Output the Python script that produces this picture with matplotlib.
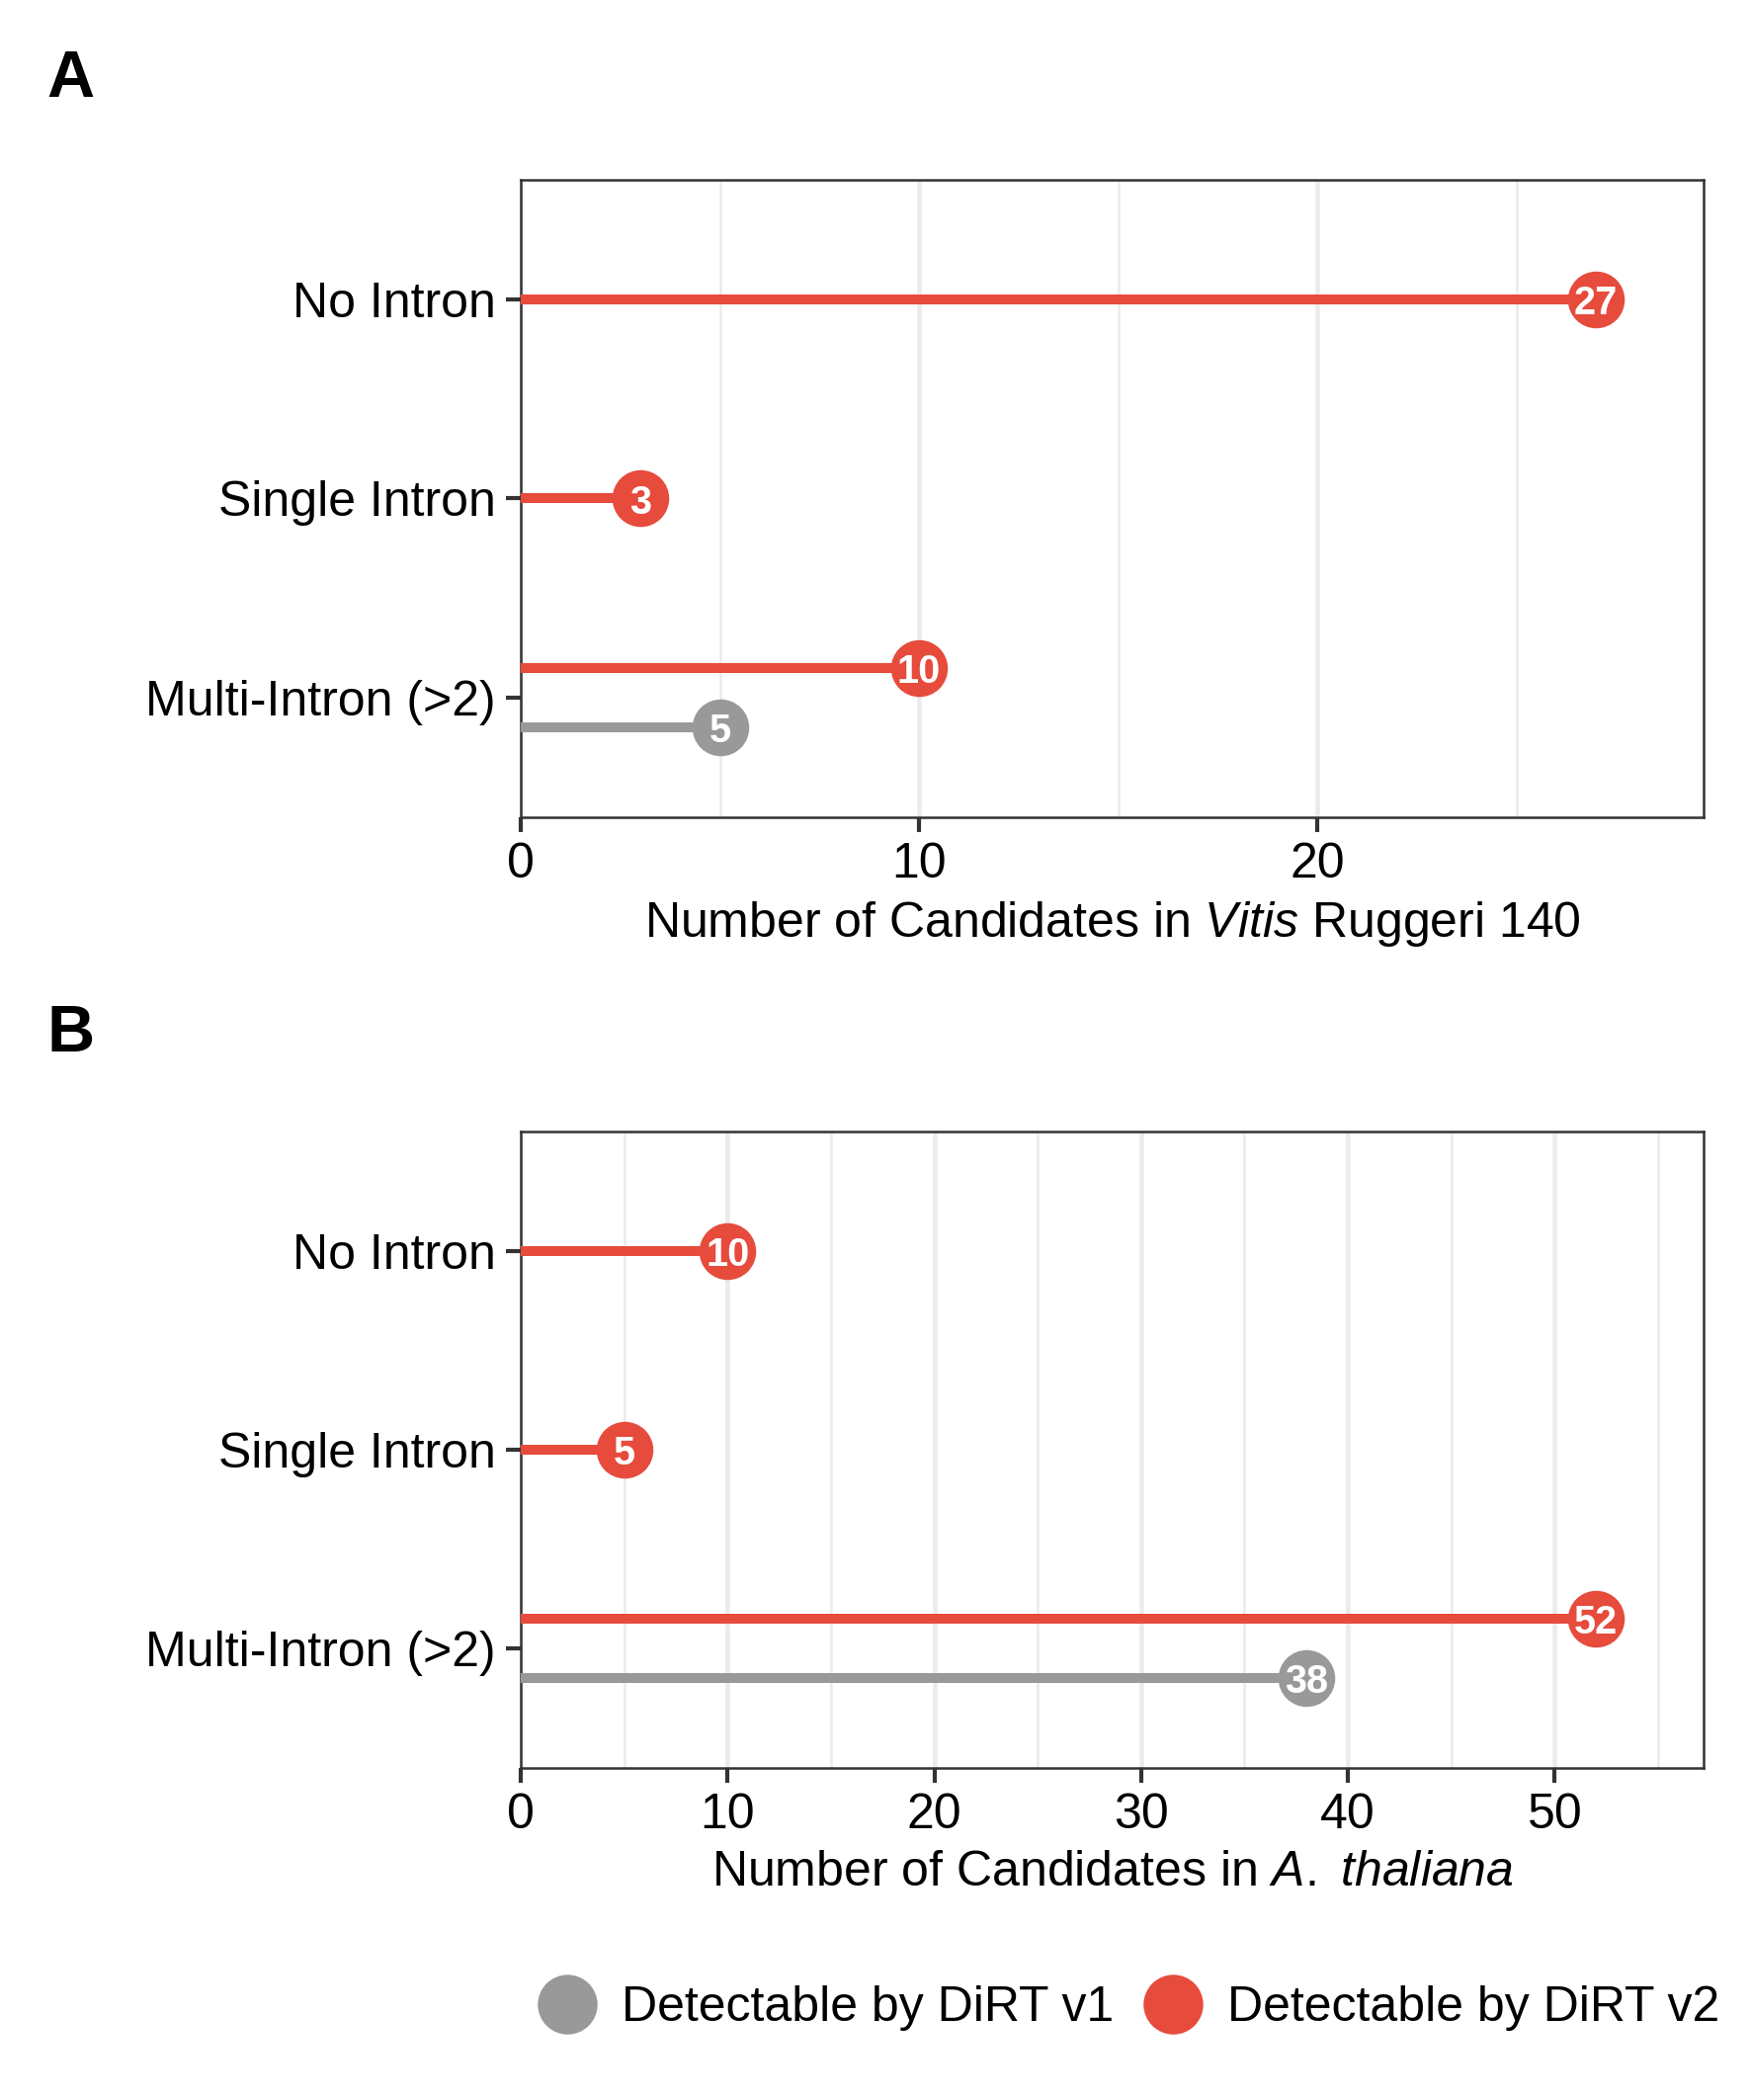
import numpy as np
import matplotlib as mpl
mpl.use("Agg")
import matplotlib.pyplot as plt
from matplotlib.lines import Line2D

mpl.rcParams['font.family'] = "Liberation Sans"
mpl.rcParams['mathtext.fontset'] = 'custom'
mpl.rcParams['mathtext.rm'] = 'Liberation Sans'
mpl.rcParams['mathtext.it'] = 'Liberation Sans:italic'

# data
categories = ["No Intron", "Single Intron", "Multi-Intron (>2)"]
vitis_v2 = [27, 3, 10]
vitis_v1 = [None, None, 5]
thal_v2 = [10, 5, 52]
thal_v1 = [None, None, 38]
xticks_a = [0, 10, 20]
xticks_b = [0, 10, 20, 30, 40, 50]

red = "#E64B3C"
grey = "#999999"
frame = "#333333"

fig = plt.figure(figsize=(1771/300, 2125/300), dpi=300)

def panel(rect, v2, v1, xticks, xlabel, letter, letter_y):
    ax = fig.add_axes(rect)
    ypos = np.array([3, 2, 1])
    for i in range(len(categories)):
        both = v1[i] is not None
        off = 0.15 if both else 0.0
        y2 = ypos[i] + off
        ax.plot([0, v2[i]], [y2, y2], color=red, lw=2.4, solid_capstyle='butt', zorder=3)
        ax.plot(v2[i], y2, 'o', ms=13.8, color=red, mec='none', zorder=4)
        ax.text(v2[i], y2, str(v2[i]), color='white', fontsize=9.5, fontweight='bold',
                ha='center', va='center_baseline', zorder=5)
        if both:
            y1 = ypos[i] - off
            ax.plot([0, v1[i]], [y1, y1], color=grey, lw=2.4, solid_capstyle='butt', zorder=3)
            ax.plot(v1[i], y1, 'o', ms=13.8, color=grey, mec='none', zorder=4)
            ax.text(v1[i], y1, str(v1[i]), color='white', fontsize=9.5, fontweight='bold',
                    ha='center', va='center_baseline', zorder=5)
    xmax = max(v2) * 1.1
    ax.set_xlim(0, xmax)
    ax.set_ylim(0.4, 3.6)
    ax.set_yticks(ypos)
    ax.set_yticklabels(categories)
    ax.set_xticks(xticks)
    minor = [t + 5 for t in xticks if t + 5 < xmax]
    ax.set_xticks(minor, minor=True)
    ax.tick_params(axis='x', which='minor', length=0)
    ax.grid(True, axis='x', which='major', color='#EBEBEB', lw=1.1, zorder=0)
    ax.grid(True, axis='x', which='minor', color='#EBEBEB', lw=0.6, zorder=0)
    ax.set_axisbelow(True)
    ax.tick_params(axis='both', which='major', length=3.5, width=1.0, color=frame,
                   labelsize=12, labelcolor='black', pad=2.5)
    for s in ax.spines.values():
        s.set_color(frame)
        s.set_linewidth(0.6)
    ax.set_xlabel(xlabel, fontsize=12, labelpad=3)
    fig.text(47/1771, letter_y, letter, fontsize=16, fontweight='bold', va='top', ha='left')
    return ax

panel([527/1771, 1 - 827/2125, 1197/1771, 645/2125], vitis_v2, vitis_v1, xticks_a,
      r"Number of Candidates in $\it{Vitis}$ Ruggeri 140", "A", 1 - 50/2125)
panel([527/1771, 1 - 1789/2125, 1197/1771, 644/2125], thal_v2, thal_v1, xticks_b,
      r"Number of Candidates in $\it{A.}$ $\it{thaliana}$", "B", 1 - 1016/2125)

handles = [Line2D([], [], ls='none', marker='o', ms=14.5, color=grey, mec='none'),
           Line2D([], [], ls='none', marker='o', ms=14.5, color=red, mec='none')]
fig.legend(handles, ["Detectable by DiRT v1", "Detectable by DiRT v2"], loc='center',
           bbox_to_anchor=(1142/1771, 1 - 2032/2125), ncol=2, frameon=False, fontsize=12,
           handletextpad=0.5, columnspacing=0.6, handlelength=1.2)

fig.savefig("out.png", dpi=300)
